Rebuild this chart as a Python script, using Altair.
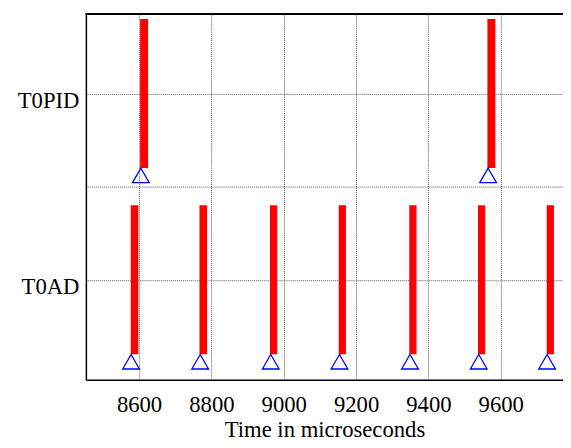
import altair as alt
import pandas as pd

# Signals (categorical rows) and their numeric levels
signals = ["T0AD", "T0PID"]
levels = [1, 2]

# Event intervals (microseconds)
t0ad_start = [8577, 8767, 8962, 9152, 9347, 9537, 9727]
t0ad_end = [8598, 8788, 8982, 9172, 9367, 9557, 9747]
t0ad_mark = [8578, 8769, 8964, 9154, 9349, 9539, 9728]

t0pid_start = [8603, 9563]
t0pid_end = [8625, 9585]
t0pid_mark = [8605, 9565]

x_ticks = [8600, 8800, 9000, 9200, 9400, 9600]
x_domain = [8453, 9772]
y_domain = [0.4635, 2.4265]
half = 0.4

rows = []
for s, e in zip(t0ad_start, t0ad_end):
    rows.append({"signal": "T0AD", "start": s, "end": e, "lo": levels[0] - half, "hi": levels[0] + half})
for s, e in zip(t0pid_start, t0pid_end):
    rows.append({"signal": "T0PID", "start": s, "end": e, "lo": levels[1] - half, "hi": levels[1] + half})
df_bars = pd.DataFrame(rows)

trows = []
for t in t0ad_mark:
    trows.append({"signal": "T0AD", "t": t, "base": levels[0] - half})
for t in t0pid_mark:
    trows.append({"signal": "T0PID", "t": t, "base": levels[1] - half})
df_tri = pd.DataFrame(trows)

label_expr = " : ".join(
    [f"datum.value == {lv} ? '{nm}'" for lv, nm in zip(levels, signals)]
) + " : ''"

W, H = 484, 371
FONT = "'Liberation Serif', 'Times New Roman', serif"

xscale = alt.Scale(domain=x_domain, nice=False, zero=False)
yscale = alt.Scale(domain=y_domain, nice=False, zero=False)

bars = alt.Chart(df_bars).mark_rect(color="#ff0000").encode(
    x=alt.X("start:Q", scale=xscale,
            axis=alt.Axis(values=x_ticks, title="Time in microseconds",
                          labelBaseline="alphabetic", labelPadding=32,
                          titleY=58, titleBaseline="alphabetic",
                          format="d")),
    x2="end:Q",
    y=alt.Y("lo:Q", scale=yscale,
            axis=alt.Axis(values=[1, 1.5, 2], labelExpr=label_expr, title=None,
                          labelPadding=7, labelBaseline="middle", labelOffset=7)),
    y2="hi:Q",
)

tri = alt.Chart(df_tri).mark_point(
    shape="triangle-up", size=289, filled=False, color="#0000ff",
    strokeWidth=1.3, opacity=1, yOffset=7.5
).encode(
    x=alt.X("t:Q", scale=xscale),
    y=alt.Y("base:Q", scale=yscale),
)

top_border = alt.Chart(df_bars).mark_rule(color="black", strokeWidth=1.5).encode(
    x=alt.value(0), x2=alt.value(W), y=alt.value(0)
)

chart = alt.layer(bars, tri, top_border).properties(
    width=W, height=H,
    autosize=alt.AutoSizeParams(type="none"),
    padding={"left": 79, "top": 3, "right": 0, "bottom": 63},
).configure_view(stroke=None).configure_axis(
    domainColor="black", domainWidth=1.5, ticks=False,
    grid=True, gridColor="#555555", gridDash=[1, 1], gridWidth=1,
    labelFont=FONT, labelFontSize=23, labelColor="black",
    titleFont=FONT, titleFontSize=23, titleColor="black", titleFontWeight="normal",
    labelFlush=False, labelOverlap=False,
)

chart.save("out.html", embed_options={"renderer": "svg", "actions": False})
